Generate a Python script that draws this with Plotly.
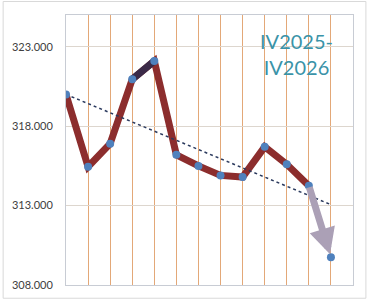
import plotly.graph_objects as go

periods = list(range(13))
values = [320.0, 315.45, 316.9, 320.95, 322.1, 316.2, 315.5, 314.9, 314.8, 316.7, 315.6, 314.25, 309.75]
trend_x = [0, 12]
trend_y = [320.0, 313.06]
y_ticks = [308, 313, 318, 323]
y_labels = ["308.000", "313.000", "318.000", "323.000"]
title_text = "IV2025-<br>IV2026"

fig = go.Figure()

# main thick line (without last segment, which is an arrow)
fig.add_trace(go.Scatter(
    x=periods[:12], y=values[:12], mode="lines",
    line=dict(color="#8C2D2D", width=7), hoverinfo="skip", showlegend=False))
# darker segment at the peak
fig.add_trace(go.Scatter(
    x=periods[3:5], y=values[3:5], mode="lines",
    line=dict(color="#3B2A48", width=7), hoverinfo="skip", showlegend=False))

# trend line
fig.add_trace(go.Scatter(
    x=trend_x, y=trend_y, mode="lines",
    line=dict(color="#2B3A5E", width=1.5, dash="dot"), hoverinfo="skip", showlegend=False))

# arrow for last segment
fig.add_annotation(
    x=periods[12], y=values[12], ax=periods[11], ay=values[11],
    xref="x", yref="y", axref="x", ayref="y",
    showarrow=True, arrowhead=2, arrowsize=0.75, arrowwidth=7,
    arrowcolor="#ABA0B6", standoff=3, text="")

# markers
fig.add_trace(go.Scatter(
    x=periods, y=values, mode="markers",
    marker=dict(color="#4F81BD", size=8), hoverinfo="skip", showlegend=False))

fig.add_annotation(
    xref="paper", yref="paper", x=0.802, y=0.955, xanchor="center", yanchor="top",
    text=title_text, showarrow=False, align="center",
    font=dict(family="Lato, Open Sans, sans-serif", size=20, color="#3A93A8"))

# chart frame
fig.add_shape(type="rect", xref="paper", yref="paper",
              x0=-0.219, y0=-0.049, x1=1.045, y1=1.05,
              line=dict(color="#D9D9D9", width=1), fillcolor="rgba(0,0,0,0)", layer="below")

fig.update_layout(
    width=369, height=303,
    margin=dict(l=65, r=16, t=15, b=16),
    paper_bgcolor="white", plot_bgcolor="white",
    font=dict(family="Lato, Open Sans, sans-serif", size=11, color="#404040"),
    xaxis=dict(range=[0, 13], tickvals=list(range(1, 13)), showticklabels=False,
               showgrid=True, gridcolor="#E3A878", gridwidth=1, zeroline=False,
               showline=True, linecolor="#C8CCD4", mirror=True, ticks=""),
    yaxis=dict(range=[308, 325], tickvals=y_ticks, ticktext=y_labels,
               showgrid=True, gridcolor="#DDD6CE", gridwidth=1, zeroline=False,
               showline=True, linecolor="#C8CCD4", mirror=True, ticks="outside",
               ticklen=10, tickcolor="rgba(0,0,0,0)"),
)

fig.write_html("out.html")
